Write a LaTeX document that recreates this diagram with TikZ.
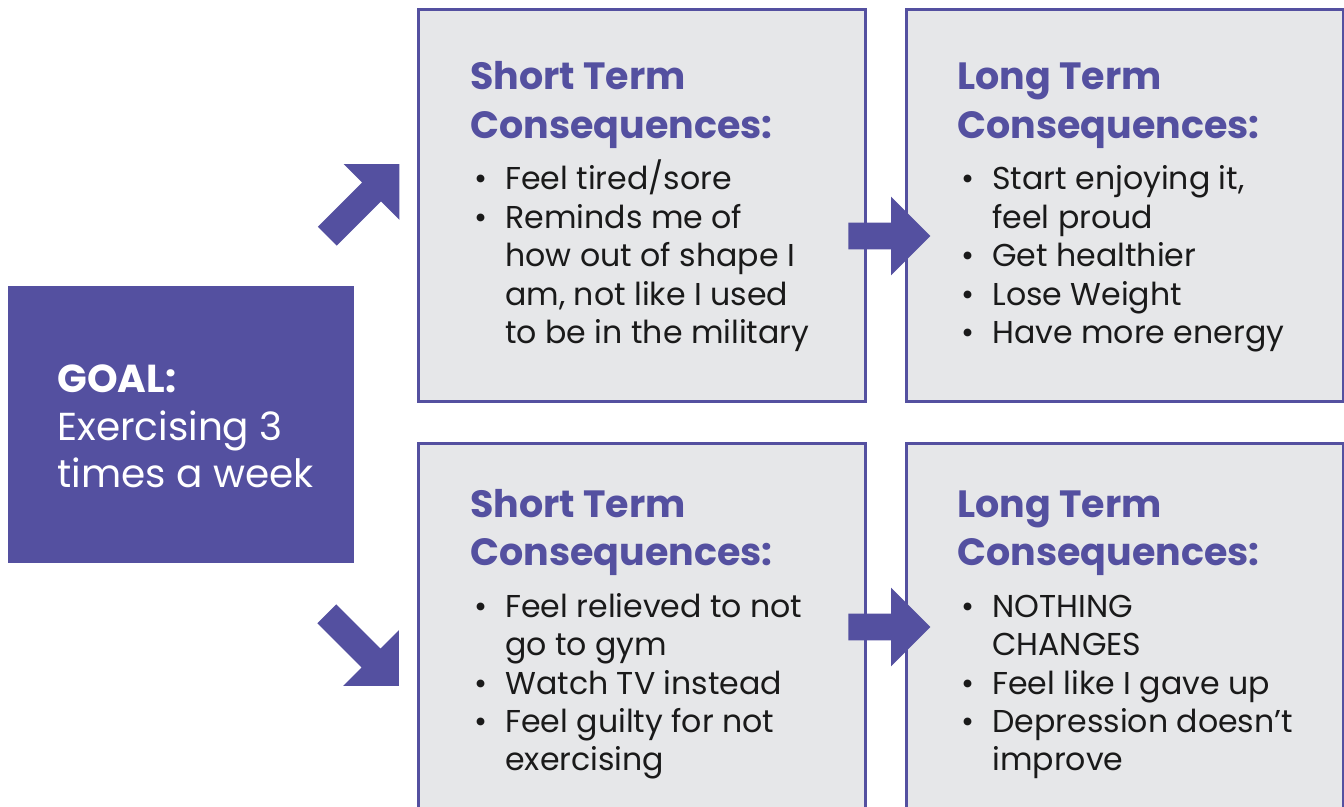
\documentclass[tikz,border=0pt]{standalone}
\usepackage{fontspec}
\setmainfont{Poppins}
\usetikzlibrary{shapes.arrows,fit}

\definecolor{goalpurple}{RGB}{84,80,160}
\definecolor{boxgray}{RGB}{230,231,233}
\definecolor{bodyblack}{RGB}{26,26,26}

\newcommand{\bulletmark}{\makebox[17.5pt][l]{\hspace{2pt}\textbullet}}
\newcommand{\bulletgap}{\hspace*{17.5pt}}

\tikzset{
  goalbox/.style={fill=goalpurple, inner sep=0pt},
  consbox/.style={draw=goalpurple, line width=1.5pt, fill=boxgray, inner sep=0pt},
  blockarrow/.style={single arrow, fill=goalpurple, inner sep=6.5pt, minimum height=41pt,
    single arrow head extend=13pt, single arrow tip angle=90, anchor=tail},
  headtext/.style={anchor=base west, inner sep=0pt, text=goalpurple,
    font={\fontsize{19}{24.25}\selectfont\bfseries}},
  bodytext/.style={anchor=base west, inner sep=0pt, text=bodyblack,
    font={\fontsize{15.8}{19.25}\selectfont}},
  goaltext/.style={anchor=base west, inner sep=0pt, text=white,
    font={\fontsize{19.5}{23.75}\selectfont}}
}

\begin{document}
\begin{tikzpicture}[x=0.5pt,y=-0.5pt]
  \useasboundingbox (0,0) rectangle (1344,807);
  \clip (0,0) rectangle (1344,807);

  % boxes
  \node[goalbox, fit={(8,286) (354,563)}] (goal) {};
  \node[consbox, fit={(418,10) (865,402)}] (shortgood) {};
  \node[consbox, fit={(906,10) (1343,402)}] (longgood) {};
  \node[consbox, fit={(418,444) (865,840)}] (shortbad) {};
  \node[consbox, fit={(906,444) (1343,840)}] (longbad) {};

  % arrows, placed by their tails
  \node[blockarrow, minimum height=51pt, rotate=45] (uparrow) at (327,236.5) {};
  \node[blockarrow, minimum height=51pt, rotate=-45] (downarrow) at (326.5,613.5) {};
  \node[blockarrow] (goodarrow) at (848,236) {};
  \node[blockarrow] (badarrow) at (848,627) {};

  % goal
  \node[goaltext] (goaltitle) at (57,393) {\begin{tabular}[t]{@{}l@{}}
    \textbf{GOAL:}\\ Exercising 3\\ times a week\end{tabular}};

  % top row
  \node[headtext] (shortgoodhead) at (470,90) {\begin{tabular}[t]{@{}l@{}}
    Short Term\\ Consequences:\end{tabular}};
  \node[bodytext] (shortgoodlist) at (470,190) {\begin{tabular}[t]{@{}l@{}}
    \bulletmark Feel tired/sore\\
    \bulletmark Reminds me of\\
    \bulletgap how out of shape I\\
    \bulletgap am, not like I used\\
    \bulletgap to be in the military\end{tabular}};
  \node[headtext] (longgoodhead) at (957,90) {\begin{tabular}[t]{@{}l@{}}
    Long Term\\ Consequences:\end{tabular}};
  \node[bodytext] (longgoodlist) at (957,190) {\begin{tabular}[t]{@{}l@{}}
    \bulletmark Start enjoying it,\\
    \bulletgap feel proud\\
    \bulletmark Get healthier\\
    \bulletmark Lose Weight\\
    \bulletmark Have more energy\end{tabular}};

  % bottom row
  \node[headtext] (shortbadhead) at (470,517) {\begin{tabular}[t]{@{}l@{}}
    Short Term\\ Consequences:\end{tabular}};
  \node[bodytext] (shortbadlist) at (470,617) {\begin{tabular}[t]{@{}l@{}}
    \bulletmark Feel relieved to not\\
    \bulletgap go to gym\\
    \bulletmark Watch TV instead\\
    \bulletmark Feel guilty for not\\
    \bulletgap exercising\end{tabular}};
  \node[headtext] (longbadhead) at (957,517) {\begin{tabular}[t]{@{}l@{}}
    Long Term\\ Consequences:\end{tabular}};
  \node[bodytext] (longbadlist) at (957,617) {\begin{tabular}[t]{@{}l@{}}
    \bulletmark NOTHING\\
    \bulletgap CHANGES\\
    \bulletmark Feel like I gave up\\
    \bulletmark Depression doesn’t\\
    \bulletgap improve\end{tabular}};
\end{tikzpicture}
\end{document}
